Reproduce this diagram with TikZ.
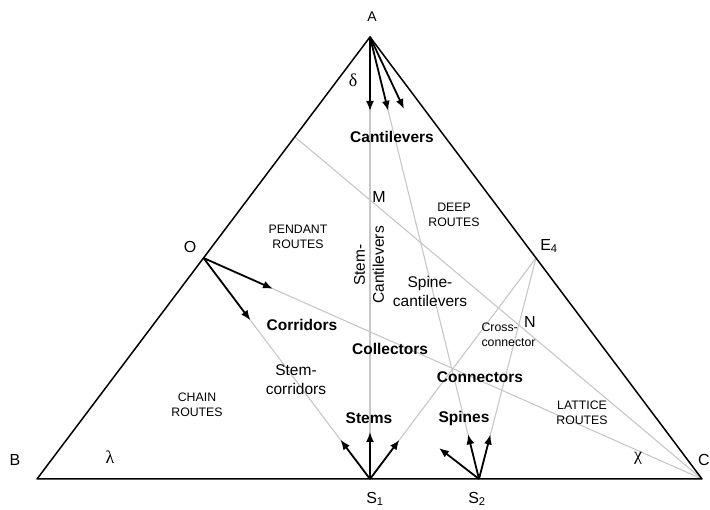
\documentclass[tikz,border=0pt]{standalone}
\usepackage{fontspec}
\setmainfont{Liberation Sans}
\newfontfamily\greekfont{Liberation Serif}
\usepackage{tikz}
\usetikzlibrary{calc,arrows.meta}

\tikzset{
  side/.style={line width=1.5pt},
  guide/.style={black!22, line width=1.1pt},
  flow/.style={-{Latex[length=10pt,width=8pt]}, line width=1.8pt},
  vertex/.style={font=\fontsize{16}{16}\selectfont},
  kind/.style={font=\bfseries\fontsize{15.5}{17}\selectfont},
  route/.style={font=\fontsize{12.3}{15}\selectfont, align=center},
  link/.style={font=\fontsize{15.5}{19}\selectfont, align=center},
  angl/.style={font=\greekfont\fontsize{18}{18}\selectfont},
}

\begin{document}
\begin{tikzpicture}[x=1pt,y=-1pt]
            \useasboundingbox (0,0) rectangle (710,510);

            \coordinate (A) at (370,37);
            \coordinate (B) at (37,479);
            \coordinate (C) at (702,479);
            \coordinate (O) at ($(A)!0.5!(B)$);
            \coordinate (E4) at ($(A)!0.5!(C)$);
            \coordinate (S1) at (370,479);
            \coordinate (S2) at (479,479);
            \coordinate (M) at (370,200);
            \coordinate (L) at (intersection of A--B and C--M);
            \coordinate (N) at (intersection of C--M and E4--S2);

            \draw[guide] (A)--(S1);
            \draw[guide] (A)--(S2);
            \draw[guide] (L)--(C);
            \draw[guide] (O)--(C);
            \draw[guide] (O)--(S1);
            \draw[guide] (E4)--(S1);
            \draw[guide] (E4)--(S2);

            \draw[side, line join=round] (B)--(A)--(C)--cycle;

            \coordinate (a1) at ($(A)!74pt!(S1)$);
            \coordinate (a2) at ($(A)!76pt!(S2)$);
            \coordinate (a3) at ($(A)+(34,72)$);
            \coordinate (o1) at ($(O)!76pt!(C)$);
            \coordinate (o2) at ($(O)!78pt!(S1)$);
            \coordinate (s1) at ($(S1)!49pt!(O)$);
            \coordinate (s2) at ($(S1)+(0,-47)$);
            \coordinate (s3) at ($(S1)!49pt!(E4)$);
            \coordinate (t1) at ($(S2)+(-40,-31)$);
            \coordinate (t2) at ($(S2)!46pt!(A)$);
            \coordinate (t3) at ($(S2)!46pt!(E4)$);

            \draw[flow] (A)--(a1);
            \draw[flow] (A)--(a2);
            \draw[flow] (A)--(a3);
            \draw[flow] (O)--(o1);
            \draw[flow] (O)--(o2);
            \draw[flow] (S1)--(s1);
            \draw[flow] (S1)--(s2);
            \draw[flow] (S1)--(s3);
            \draw[flow] (S2)--(t1);
            \draw[flow] (S2)--(t2);
            \draw[flow] (S2)--(t3);

            \node[vertex, font=\fontsize{14}{14}\selectfont] (lA) at (372,17) {A};
            \node[vertex] (lB) at (15,460) {B};
            \node[vertex, inner sep=0pt] (lC) at (704,460) {C};
            \node[vertex] (lO) at (190,247) {O};
            \node[vertex] (lE) at (549,246) {E\textsubscript{4}};
            \node[vertex] (lM) at (379,197) {M};
            \node[vertex] (lN) at (530,322) {N};
            \node[vertex] (lS1) at (375,499) {S\textsubscript{1}};
            \node[vertex] (lS2) at (477,499) {S\textsubscript{2}};

            \node[angl] (delta) at (353,80) {δ};
            \node[angl] (lambda) at (110,457) {λ};
            \node[angl] (chi) at (638,458) {χ};

            \node[kind] (cant) at (392,137) {Cantilevers};
            \node[kind] (corr) at (302,325) {Corridors};
            \node[kind] (coll) at (390,349) {Collectors};
            \node[kind] (conn) at (480,377) {Connectors};
            \node[kind] (stem) at (369,418) {Stems};
            \node[kind] (spin) at (464,418) {Spines};

            \node[route] (pend) at (298,237) {PENDANT\\ROUTES};
            \node[route] (deep) at (454,215) {DEEP\\ROUTES};
            \node[route] (chain) at (197,405) {CHAIN\\ROUTES};
            \node[route] (latt) at (582,413) {LATTICE\\ROUTES};

            \node[link] (stco) at (296,380) {Stem-\\corridors};
            \node[link] (spca) at (430,291) {Spine-\\cantilevers};
            \node[link, rotate=90] (stca) at (369,265) {Stem-\\Cantilevers};
            \node[route, align=left, anchor=west] (cross) at (478,335) {Cross-\\connector};
        \end{tikzpicture}
\end{document}
